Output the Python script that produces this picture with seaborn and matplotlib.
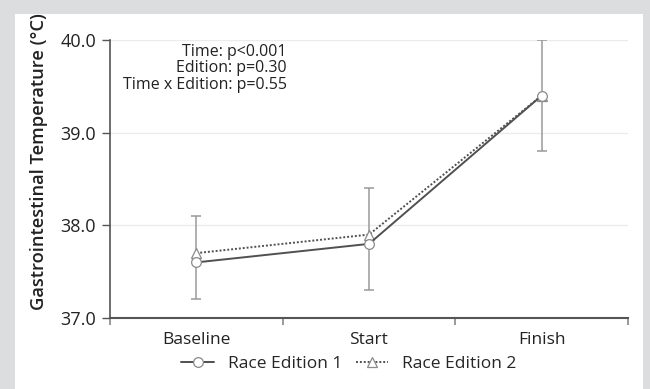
import matplotlib
matplotlib.use("Agg")
import matplotlib.pyplot as plt
import seaborn as sns
import pandas as pd
import numpy as np
from matplotlib.patches import Rectangle

# ---- data ----
time_points = ["Baseline", "Start", "Finish"]
edition1 = [37.6, 37.8, 39.4]
edition2 = [37.7, 37.9, 39.4]
err_low = [37.2, 37.3, 38.8]
err_high = [38.1, 38.4, 40.0]
series_names = ["Race Edition 1", "Race Edition 2"]
y_ticks = [37.0, 38.0, 39.0, 40.0]
stats_text = ["Time: p<0.001", "Edition: p=0.30", "Time x Edition: p=0.55"]

sns.set_theme(style="white")
plt.rcParams["font.family"] = ["Open Sans", "DejaVu Sans"]

fig = plt.figure(figsize=(6.5, 3.89), dpi=100)
fig.patch.set_facecolor("#dcdddf")
fig.patches.append(Rectangle((15 / 650, 0), (643 - 15) / 650, (389 - 14) / 389,
                             transform=fig.transFigure, facecolor="white",
                             edgecolor="none", zorder=-10))

ax = fig.add_axes([110 / 650, 1 - 318 / 389, (628 - 110) / 650, (318 - 40) / 389])
ax.set_facecolor("none")

pos = np.arange(len(time_points))
df1 = pd.DataFrame({"pos": pos, "temp": edition1})
df2 = pd.DataFrame({"pos": pos, "temp": edition2})

center = (np.array(err_low) + np.array(err_high)) / 2
ax.errorbar(pos, center, yerr=[center - np.array(err_low), np.array(err_high) - center],
            fmt="none", ecolor="#9a9a9a", elinewidth=1.1, capsize=3.8, capthick=1.1, zorder=2)

sns.lineplot(data=df2, x="pos", y="temp", ax=ax, color="#505050", linestyle=(0, (1, 1)),
             linewidth=1.4, marker="^", markersize=7, markerfacecolor="white",
             markeredgecolor="#8a8a8a", markeredgewidth=0.9, label=series_names[1], zorder=3)
sns.lineplot(data=df1, x="pos", y="temp", ax=ax, color="#505050", linestyle="-",
             linewidth=1.4, marker="o", markersize=7, markerfacecolor="white",
             markeredgecolor="#8a8a8a", markeredgewidth=0.9, label=series_names[0], zorder=4)

ax.set_xlim(-0.5, 2.5)
ax.set_ylim(37.0, 40.0)
ax.set_yticks(y_ticks)
ax.set_yticklabels([f"{v:.1f}" for v in y_ticks], fontsize=13, color="#222222")
ax.set_xticks(pos)
ax.set_xticklabels(time_points, fontsize=12.5, color="#222222")
ax.set_xticks([-0.5, 0.5, 1.5, 2.5], minor=True)
ax.tick_params(axis="x", which="both", bottom=True)
ax.tick_params(axis="y", which="major", left=True)
ax.tick_params(axis="x", which="major", length=0, pad=10)
ax.tick_params(axis="x", which="minor", length=5, width=1.2, color="#888888", direction="out")
ax.tick_params(axis="y", which="major", length=6, width=1, color="#555555", pad=4, direction="out")
ax.set_xlabel("")
ax.set_ylabel("Gastrointestinal Temperature (°C)", fontsize=13.2, fontweight="semibold",
              color="#222222")
ax.yaxis.set_label_coords(-62 / 518, 0.561)

for y in [38.0, 39.0, 40.0]:
    ax.axhline(y, color="#ebebeb", linewidth=1, zorder=0)

for s in ["top", "right"]:
    ax.spines[s].set_visible(False)
ax.spines["left"].set_color("#555555")
ax.spines["bottom"].set_color("#555555")
ax.spines["left"].set_linewidth(1.2)
ax.spines["bottom"].set_linewidth(1.5)

for i, t in enumerate(stats_text):
    ax.text(287 / 650, 1 - (52 + i * 16.5) / 389, t, transform=fig.transFigure,
            ha="right", va="center", fontsize=11.5, color="#222222")

handles, labels = ax.get_legend_handles_labels()
order = [labels.index(n) for n in series_names]
ax.legend([handles[i] for i in order], [labels[i] for i in order],
          loc="center", bbox_to_anchor=(349 / 650, 1 - 364 / 389),
          bbox_transform=fig.transFigure, ncol=2, frameon=False, fontsize=12.5,
          handlelength=1.9, columnspacing=0.75, handletextpad=0.8)

fig.savefig("out.png", dpi=100, facecolor=fig.get_facecolor())
